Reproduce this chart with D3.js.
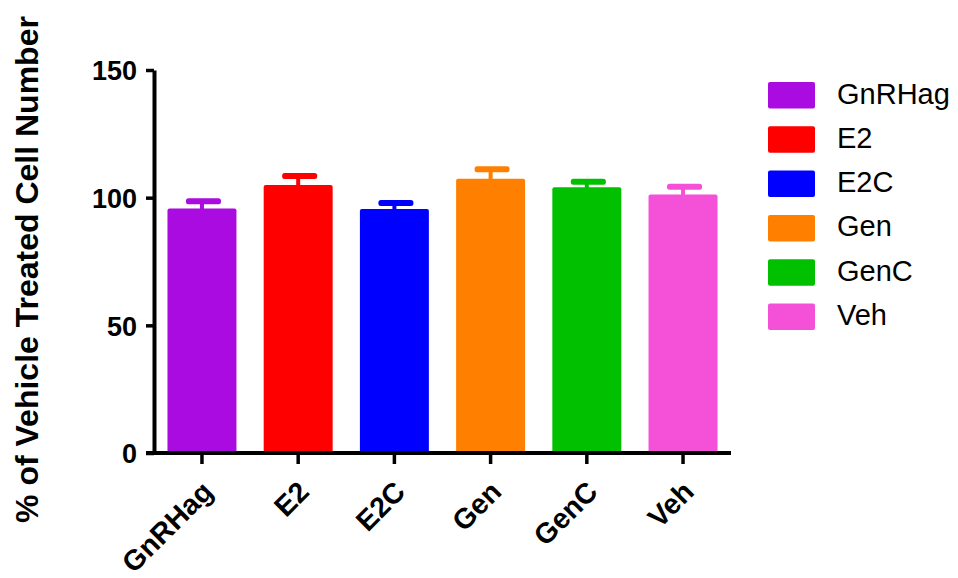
<!DOCTYPE html>
<html>
<head>
<meta charset="utf-8">
<script src="https://cdn.jsdelivr.net/npm/d3@7"></script>
<style>
  html, body { margin: 0; padding: 0; background: #fff; }
  svg { display: block; }
  text { font-family: "Liberation Sans", Arial, Helvetica, sans-serif; }
</style>
</head>
<body>
<svg id="chart" width="958" height="578"></svg>
<script>
// Cell number after each treatment, as % of vehicle-treated control (mean ± SEM)
const groups = ["GnRHag", "E2", "E2C", "Gen", "GenC", "Veh"];
const means  = [95.8, 105.0, 95.6, 107.4, 104.1, 101.2];
const errors = [2.8, 3.5, 2.3, 3.7, 2.1, 3.1];
const colors = ["#AA0BE0", "#FF0000", "#0000FF", "#FF8000", "#00C000", "#F550D8"];
const yTicks = [0, 50, 100, 150];
const yTitle = "% of Vehicle Treated Cell Number";

const svg = d3.select("#chart");

const x = d3.scaleBand()
  .domain(groups)
  .range([154, 731])
  .paddingInner(0.283)
  .paddingOuter(0.14);

const y = d3.scaleLinear()
  .domain([0, 150])
  .range([453, 70]);

const color = d3.scaleOrdinal().domain(groups).range(colors);

const data = groups.map((g, i) => ({ group: g, mean: means[i], err: errors[i] }));

// Bars
svg.append("g")
  .selectAll("rect")
  .data(data)
  .join("rect")
  .attr("x", d => x(d.group))
  .attr("y", d => y(d.mean))
  .attr("width", x.bandwidth())
  .attr("height", d => y(0) - y(d.mean))
  .attr("rx", 2)
  .attr("fill", d => color(d.group));

// Error bars (upper only): stem + cap
const eb = svg.append("g");
eb.selectAll("line.stem")
  .data(data)
  .join("line")
  .attr("class", "stem")
  .attr("x1", d => x(d.group) + x.bandwidth() / 2)
  .attr("x2", d => x(d.group) + x.bandwidth() / 2)
  .attr("y1", d => y(d.mean) + 1)
  .attr("y2", d => y(d.mean + d.err))
  .attr("stroke", d => color(d.group))
  .attr("stroke-width", 4);
eb.selectAll("rect.cap")
  .data(data)
  .join("rect")
  .attr("class", "cap")
  .attr("x", d => x(d.group) + x.bandwidth() / 2 - 16)
  .attr("y", d => y(d.mean + d.err) - 3)
  .attr("width", 35)
  .attr("height", 6)
  .attr("rx", 2.5)
  .attr("fill", d => color(d.group));

// Y axis
const yAxis = svg.append("g")
  .attr("transform", "translate(154,0)")
  .call(d3.axisLeft(y).tickValues(yTicks).tickSize(8).tickPadding(9).tickSizeOuter(0));
yAxis.select(".domain").attr("stroke", "#000").attr("stroke-width", 4);
yAxis.selectAll(".tick line").attr("stroke", "#000").attr("stroke-width", 3.5);
yAxis.selectAll(".tick text")
  .attr("fill", "#000")
  .style("font-size", "27px")
  .style("font-weight", "bold")
  .attr("dy", "0.36em");

// X axis
const xAxis = svg.append("g")
  .attr("transform", "translate(0,453)")
  .call(d3.axisBottom(x).tickSize(11).tickSizeOuter(0).tickFormat(() => ""));
xAxis.select(".domain").remove();
xAxis.append("line")
  .attr("x1", 146).attr("x2", 731)
  .attr("y1", 0).attr("y2", 0)
  .attr("stroke", "#000").attr("stroke-width", 4);
xAxis.selectAll(".tick line").attr("stroke", "#000").attr("stroke-width", 3.5);

// Rotated category labels
svg.append("g")
  .selectAll("text")
  .data(groups)
  .join("text")
  .attr("transform", g => `translate(${x(g) + x.bandwidth() / 2 - 2},${479}) rotate(-45)`)
  .attr("text-anchor", "end")
  .attr("dy", "0.72em")
  .style("font-size", "28.5px")
  .style("font-weight", "bold")
  .attr("fill", "#000")
  .text(g => g);

// Y axis title
svg.append("text")
  .attr("transform", `translate(38,${(10 + 529) / 2}) rotate(-90)`)
  .attr("text-anchor", "middle")
  .style("font-size", "32px")
  .style("font-weight", "bold")
  .attr("fill", "#000")
  .text(yTitle);

// Legend
const legend = svg.append("g").attr("transform", "translate(768,82)");
const item = legend.selectAll("g")
  .data(groups)
  .join("g")
  .attr("transform", (g, i) => `translate(0,${i * 44.3})`);
item.append("rect")
  .attr("width", 47)
  .attr("height", 26.5)
  .attr("rx", 2)
  .attr("fill", g => color(g));
item.append("text")
  .attr("x", 69)
  .attr("y", 21.5)
  .style("font-size", "29px")
  .attr("fill", "#000")
  .text(g => g);
</script>
</body>
</html>
